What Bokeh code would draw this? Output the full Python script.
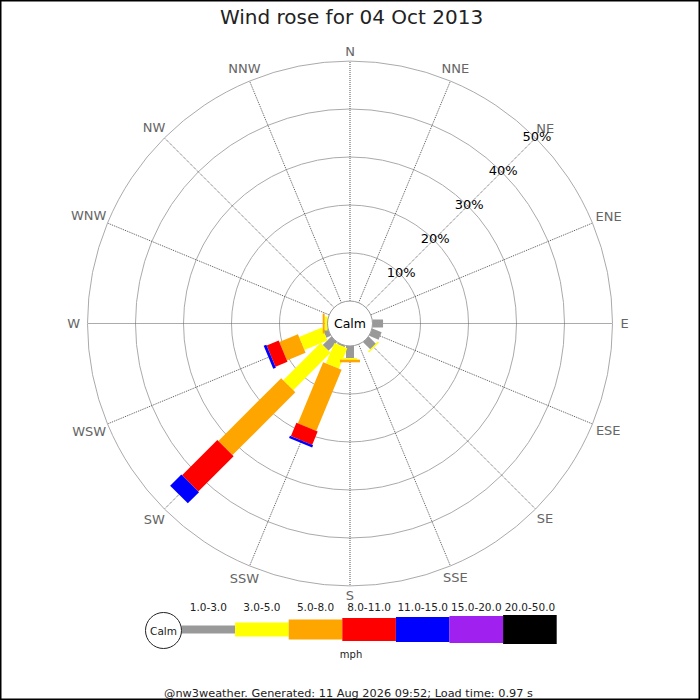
import numpy as np
from bokeh.plotting import figure
from bokeh.models import Range1d
from bokeh.core.properties import value
from bokeh.embed import file_html
from bokeh.resources import INLINE

# --- data -----------------------------------------------------------------
DIRECTIONS = ["N", "NNE", "NE", "ENE", "E", "ESE", "SE", "SSE",
              "S", "SSW", "SW", "WSW", "W", "WNW", "NW", "NNW"]

SPEED_BANDS = ["1.0-3.0", "3.0-5.0", "5.0-8.0", "8.0-11.0",
               "11.0-15.0", "15.0-20.0", "20.0-50.0"]
BAND_COLORS = ["#999999", "#ffff00", "#ffa500", "#ff0000",
               "#0000ff", "#a020f0", "#000000"]

# percent of the day, per direction (N .. NNW)
#            N  NNE NE ENE  E    ESE  SE   SSE  S     SSW   SW    WSW  W    WNW NW NNW
band_1_3 = [0, 0, 0, 0, 2.2, 2.1, 2.1, 0, 2.5, 0.3, 2.5, 1.0, 0.0, 0, 0, 0]
band_3_5 = [0, 0, 0, 0, 0.0, 0.0, 0.3, 0, 0.35, 4.6, 11.0, 5.2, 0.6, 0, 0, 0]
band_5_8 = [0, 0, 0, 0, 0.0, 0.0, 0.0, 0, 0.55, 13.8, 18.5, 4.2, 0.4, 0, 0, 0]
band_8_11 = [0, 0, 0, 0, 0, 0, 0, 0, 0, 3.0, 10.4, 2.7, 0, 0, 0, 0]
band_11_15 = [0, 0, 0, 0, 0, 0, 0, 0, 0, 0.5, 3.3, 0.6, 0, 0, 0, 0]
band_15_20 = [0] * 16
band_20_50 = [0] * 16
BANDS = [band_1_3, band_3_5, band_5_8, band_8_11,
         band_11_15, band_15_20, band_20_50]

RING_PCTS = [10, 20, 30, 40, 50]

TITLE = "Wind rose for 04 Oct 2013"
FOOTER = "@nw3weather. Generated: 11 Aug 2026 09:52; Load time: 0.97 s"

# --- geometry (screen px, y up, origin at rose centre) ---------------------
CALM_R = 22.5
PX_PER_PCT = 4.8
BAR_WIDTHS = [8, 14, 20, 23, 25, 27, 29]
FONT = value("DejaVu Sans")


def rad(pct):
    return CALM_R + PX_PER_PCT * pct


p = figure(width=700, height=700, output_backend="svg", toolbar_location=None,
           x_range=Range1d(-349.5, 350.5), y_range=Range1d(-377, 323),
           min_border=0, outline_line_color="black", outline_line_width=2,
           background_fill_color="white", border_fill_color="white")
p.axis.visible = False
p.grid.visible = False

# rings
ring_r = [rad(v) for v in RING_PCTS]
p.circle(x=[0] * len(ring_r), y=[0] * len(ring_r), radius=ring_r,
         fill_color=None, line_color="#aaaaaa", line_width=1)

# spokes
ang = np.deg2rad(np.arange(16) * 22.5)
sx, sy = np.sin(ang), np.cos(ang)
r_out = rad(RING_PCTS[-1])
p.segment(x0=CALM_R * sx, y0=CALM_R * sy, x1=r_out * sx, y1=r_out * sy,
          line_color="#444444", line_width=0.9, line_dash="1 1")

# direction labels
CHAR_W = {"N": 0.748, "E": 0.632, "S": 0.635, "W": 0.989}
lab_x, lab_y = [], []
for i, name in enumerate(DIRECTIONS):
    w = sum(CHAR_W[c] for c in name) * 13
    r = 272 + 0.33 * w * abs(sx[i])
    lab_x.append(r * sx[i])
    lab_y.append(r * sy[i])
p.text(x=lab_x, y=lab_y, text=DIRECTIONS, text_font=FONT,
       text_font_size="13px", text_color="#666666",
       text_align="center", text_baseline="middle")

# stacked bars
for b, vals in enumerate(BANDS):
    hw = BAR_WIDTHS[b] / 2
    xs, ys = [], []
    for i, v in enumerate(vals):
        if v <= 0:
            continue
        r0 = rad(sum(BANDS[k][i] for k in range(b)))
        r1 = r0 + PX_PER_PCT * v
        ux, uy = sx[i], sy[i]
        vx, vy = uy, -ux
        xs.append([r0 * ux + hw * vx, r1 * ux + hw * vx,
                   r1 * ux - hw * vx, r0 * ux - hw * vx])
        ys.append([r0 * uy + hw * vy, r1 * uy + hw * vy,
                   r1 * uy - hw * vy, r0 * uy - hw * vy])
    if xs:
        p.patches(xs=xs, ys=ys, fill_color=BAND_COLORS[b], line_color=None)

# calm circle
p.circle(x=[0], y=[0], radius=CALM_R, fill_color="white",
         line_color="#999999", line_width=1)
p.text(x=[0], y=[0], text=["Calm"], text_font=FONT, text_font_size="12.5px",
       text_color="black", text_align="center", text_baseline="middle")

# ring labels along NE
d45 = np.sqrt(0.5)
p.text(x=[(r + 2) * d45 for r in ring_r], y=[(r + 2) * d45 for r in ring_r],
       text=[f"{v}%" for v in RING_PCTS], text_font=FONT,
       text_font_size="13px", text_color="black",
       text_align="center", text_baseline="middle")

# title
p.text(x=[1.5], y=[307], text=[TITLE], text_font=FONT, text_font_size="20px",
       text_color="#222222", text_align="center", text_baseline="middle")

# legend
leg_y = -306
seg_w = 53.6
leg_x0 = -168.5
lx = [leg_x0 + seg_w * (k + 0.5) for k in range(len(SPEED_BANDS))]
p.rect(x=lx, y=[leg_y] * len(lx), width=[seg_w] * len(lx),
       height=[BAR_WIDTHS[k] for k in range(len(lx))],
       fill_color=BAND_COLORS, line_color=None)
p.text(x=lx, y=[leg_y + 23] * len(lx), text=SPEED_BANDS, text_font=FONT,
       text_font_size="10.5px", text_color="#222222",
       text_align="center", text_baseline="middle")
p.circle(x=[-186.5], y=[leg_y - 1], radius=18, fill_color="white",
         line_color="#222222", line_width=1)
p.text(x=[-186.5], y=[leg_y - 1], text=["Calm"], text_font=FONT,
       text_font_size="10.5px", text_color="#222222",
       text_align="center", text_baseline="middle")
p.text(x=[1], y=[-331], text=["mph"], text_font=FONT, text_font_size="10px",
       text_color="#222222", text_align="center", text_baseline="middle")

# footer
p.text(x=[-1.5], y=[-369.5], text=[FOOTER], text_font=FONT,
       text_font_size="11.3px", text_color="#222222",
       text_align="center", text_baseline="middle")

open("out.html", "w").write(file_html(p, INLINE))
